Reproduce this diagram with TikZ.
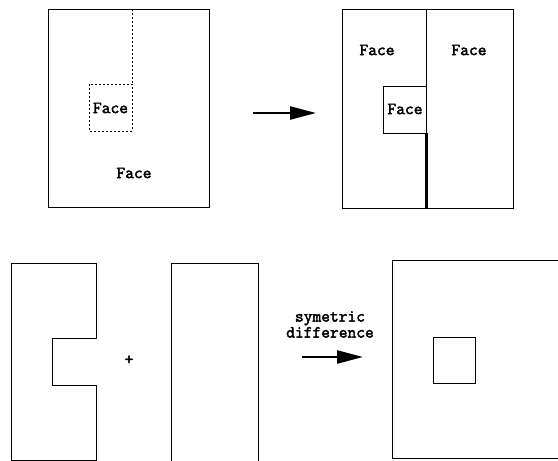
\documentclass[tikz,border=0pt]{standalone}
\usepackage{fontspec}
\newfontfamily\facefont{Latin Modern Mono}[FakeBold=2.5]
\usetikzlibrary{arrows.meta}
\begin{document}
\begin{tikzpicture}[x=1pt,y=-1pt, line width=0.9pt,
  lbl/.style={font=\facefont\fontsize{17}{16}\selectfont, inner sep=0pt, align=center},
  bigarrow/.style={line width=2.4pt, -{Triangle[length=26pt,width=13pt]}},
  dots/.style={dash pattern=on 2pt off 2pt},
  thickedge/.style={line width=3pt}]
\useasboundingbox (0,0) rectangle (558,461);
% top-left
\draw (48,9) rectangle (209,207);
\draw[dots] (132,9) -- (132,84);
\draw[dots] (89,84) rectangle (132,131);
\node[lbl] (f1) at (110.5,108) {Face};
\node[lbl] (f2) at (134,173) {Face};
% top arrow
\coordinate (a1s) at (253,113);
\coordinate (a1e) at (316,113);
\draw[bigarrow] (a1s) -- (a1e);
% top-right
\draw (342,9) rectangle (513,208);
\draw (426,9) -- (426,133);
\draw (426,133) -- (383,133) -- (383,86) -- (426,86);
\draw[thickedge] (426,133) -- (426,208);
\node[lbl] (f3) at (377,50) {Face};
\node[lbl] (f4) at (469,50) {Face};
\node[lbl] (f5) at (405,109) {Face};
% bottom-left pieces
\draw (96,263) -- (11,263) -- (11,460) -- (96,460) -- (96,385) -- (52,385) -- (52,338) -- (96,338) -- cycle;
\node[lbl] (plus) at (129,360) {+};
\draw (171,462) -- (171,263) -- (258,263) -- (258,462);
% bottom arrow
\node[lbl] (sd) at (330,324.5) {symetric\\difference};
\coordinate (a2s) at (302,357);
\coordinate (a2e) at (363,357);
\draw[bigarrow] (a2s) -- (a2e);
% bottom-right result
\draw (560,260) -- (392,260) -- (392,458) -- (560,458);
\draw (433,337) rectangle (475,383);
\end{tikzpicture}
\end{document}
